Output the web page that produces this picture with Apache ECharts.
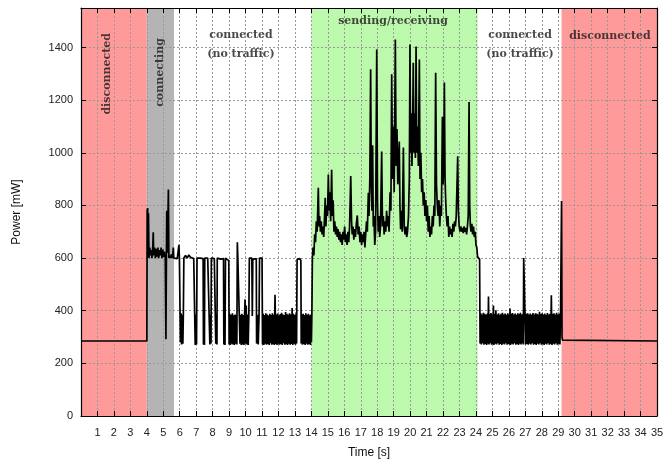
<!DOCTYPE html>
<html>
<head>
<meta charset="utf-8">
<script src="https://cdn.jsdelivr.net/npm/echarts@6/dist/echarts.min.js"></script>
<style>html,body{margin:0;padding:0;background:#fff;}#c{width:672px;height:464px;}</style>
</head>
<body>
<div id="c"></div>
<script>
// ---------- data ----------
const xTicks = [0, 35, 1];        // min, max, interval (s)
const yTicks = [0, 1550, 200];    // min, max, interval (mW)

const regionStart = [0, 4, 5.65, 14, 24.1, 29.2];
const regionEnd   = [4, 5.65, 14, 24.1, 29.2, 35];
const regionKind  = ['off', 'connecting', 'idle', 'transfer', 'idle', 'off'];

const noteText = ['disconnected', 'connecting', 'connected\n(no traffic)', 'sending/receiving', 'connected\n(no traffic)', 'disconnected'];
const noteT    = [1.58, 4.8, 9.72, 18.96, 26.68, 32.14];
const noteV    = [1300, 1305, 1410, 1500, 1410, 1444];
const noteVertical = [true, true, false, false, false, false];

const traceOff1 = [[0,285],[4.0,285]];
const traceConnecting = [
[4.0,285],[4.02,780],[4.05,790],[4.07,600],[4.1,770],[4.13,600],[4.18,640],[4.22,610],[4.27,630],[4.31,600],[4.36,640],[4.39,698],[4.42,610],
[4.47,640],[4.52,600],[4.57,635],[4.62,605],[4.67,640],[4.72,600],[4.77,630],[4.82,610],[4.87,640],[4.92,600],[4.97,632],[5.02,605],[5.07,625],
[5.12,600],[5.16,292],[5.19,600],[5.21,780],[5.25,620],[5.31,860],[5.34,600],[5.4,610],[5.45,600],[5.5,615],[5.56,600],[5.61,640],[5.64,600]
];
const traceIdle1 = [
[5.65,600],[5.75,605],[5.85,598],[5.95,650],[5.98,600],
[6.02,600],[6.04,280],[6.08,390],[6.11,272],[6.15,385],[6.19,275],[6.22,390],[6.25,600],
[6.35,610],[6.45,600],[6.55,612],[6.65,603],[6.75,600],[6.85,598],[6.92,600],
[6.94,270],[6.98,385],[7.02,272],[7.05,600],
[7.15,605],[7.25,600],[7.35,600],[7.42,598],
[7.44,272],[7.47,385],[7.5,270],[7.52,600],
[7.6,603],[7.7,600],[7.8,598],[7.83,272],[7.87,385],[7.9,275],[7.92,600],
[8.0,602],[8.1,598],[8.17,600],[8.19,275],[8.23,385],[8.26,272],[8.28,600],
[8.4,600],[8.5,596],[8.6,600],[8.66,598],[8.68,272],[8.72,385],[8.75,270],[8.78,600],[8.9,600],[8.98,590],
[9.0,272],[9.04,388],[9.08,270],[9.12,385],[9.16,275],[9.2,390],[9.24,272],[9.28,383],[9.32,270],[9.36,386],[9.4,275],[9.44,384],[9.47,272],
[9.5,660],[9.53,600],[9.6,598],[9.64,600],
[9.66,275],[9.7,385],[9.74,270],[9.78,388],[9.82,272],[9.86,384],[9.9,270],[9.94,386],[9.97,443],[10.0,275],[10.04,420],[10.08,272],[10.12,386],[10.16,270],[10.2,390],
[10.23,600],[10.3,598],[10.38,600],[10.41,380],[10.44,595],[10.55,600],[10.65,598],[10.67,275],[10.72,385],[10.77,272],[10.82,385],[10.85,600],[10.95,598],[11.0,600],
[11.03,272],[11.07,388],[11.11,270],[11.15,384],[11.19,275],[11.23,390],[11.27,271],[11.31,386],[11.35,274],[11.39,382],[11.43,270],[11.47,388],[11.51,276],[11.55,384],[11.59,271],[11.63,390],[11.67,273],[11.71,385],[11.75,270],[11.79,461],[11.83,274],[11.87,386],[11.91,270],[11.95,389],[11.99,275],[12.03,383],[12.07,271],[12.11,387],[12.15,274],[12.19,392],[12.23,270],[12.27,386],[12.31,276],[12.35,384],[12.39,271],[12.43,395],[12.47,273],[12.51,388],[12.55,270],[12.59,385],[12.63,275],[12.67,390],[12.71,271],[12.75,386],[12.79,274],[12.83,410],[12.87,270],[12.91,388],[12.95,275],[12.99,384],[13.03,271],[13.07,389],[13.1,275],
[13.13,595],[13.2,600],[13.3,598],[13.36,590],[13.38,275],
[13.42,386],[13.46,271],[13.5,388],[13.54,274],[13.58,384],[13.62,270],[13.66,390],[13.7,275],[13.74,385],[13.78,271],[13.82,388],[13.86,274],[13.9,383],[13.94,270],[13.98,386],[14.0,280]
];
const traceTransfer = [
[14.0,280],[14.03,390],[14.06,600],[14.1,640],[14.15,610],[14.2,690],[14.25,660],[14.3,740],[14.35,700],[14.42,867],[14.46,720],[14.5,760],[14.55,700],[14.6,740],[14.65,690],[14.7,720],[14.75,680],[14.8,760],[14.84,829],[14.88,720],[14.93,800],[14.98,760],[15.03,917],[15.07,780],[15.12,850],[15.17,740],[15.23,935],[15.27,760],[15.32,820],[15.37,700],[15.42,740],[15.47,690],[15.52,720],[15.57,680],[15.62,710],[15.67,670],[15.72,700],[15.77,660],[15.82,690],[15.87,650],[15.92,700],[15.97,670],[16.02,720],[16.07,660],[16.12,690],[16.17,650],[16.22,700],[16.27,660],[16.32,720],[16.39,912],[16.44,740],[16.48,690],[16.53,720],[16.58,670],[16.63,710],[16.68,680],[16.73,730],[16.79,762],[16.84,690],[16.9,720],[16.95,660],[17.0,700],[17.05,650],[17.1,690],[17.15,660],[17.2,700],[17.25,640],[17.3,690],[17.35,740],[17.4,700],[17.46,848],[17.5,760],[17.55,900],[17.6,1317],[17.64,880],[17.68,780],[17.72,1029],[17.76,720],[17.8,760],[17.85,650],[17.9,700],[17.97,1392],[18.02,800],[18.06,700],[18.1,760],[18.15,680],[18.2,720],[18.27,1005],[18.32,720],[18.37,760],[18.42,690],[18.47,740],[18.52,700],[18.57,780],[18.62,720],[18.67,760],[18.72,700],[18.78,850],[18.83,780],[18.88,1298],[18.93,900],[18.98,1100],[19.03,850],[19.1,1430],[19.15,950],[19.2,1090],[19.25,880],[19.3,980],[19.34,1043],[19.38,800],[19.42,710],[19.47,780],[19.52,700],[19.59,1020],[19.64,720],[19.69,690],[19.74,720],[19.79,680],[19.84,700],[19.9,760],[19.95,900],[19.99,1411],[20.03,1000],[20.07,1150],[20.11,950],[20.15,1080],[20.19,1342],[20.23,1000],[20.28,1150],[20.32,980],[20.36,1404],[20.4,1000],[20.45,1100],[20.5,950],[20.56,1354],[20.6,900],[20.65,1000],[20.7,850],[20.75,900],[20.8,800],[20.85,850],[20.9,760],[20.95,820],[21.0,740],[21.05,800],[21.1,700],[21.15,760],[21.2,680],[21.25,720],[21.3,690],[21.35,760],[21.4,720],[21.45,800],[21.5,760],[21.55,1304],[21.6,880],[21.65,800],[21.7,760],[21.75,820],[21.8,720],[21.85,800],[21.9,760],[21.96,1137],[22.0,880],[22.04,960],[22.08,1267],[22.12,905],[22.16,820],[22.2,760],[22.25,720],[22.3,760],[22.35,680],[22.4,720],[22.45,690],[22.5,710],[22.55,680],[22.6,730],[22.65,700],[22.7,740],[22.75,720],[22.8,760],[22.89,987],[22.93,780],[22.98,720],[23.03,700],[23.08,720],[23.13,700],[23.18,715],[23.23,695],[23.28,720],[23.33,700],[23.38,715],[23.43,690],[23.48,720],[23.53,760],[23.58,1193],[23.62,800],[23.66,720],[23.7,700],[23.75,730],[23.8,690],[23.85,720],[23.9,680],[23.95,700],[24.0,650],[24.05,640],[24.1,605],[24.18,600]
];
const traceIdle2 = [
[24.18,600],[24.22,595],[24.25,275],[24.29,390],[24.33,272],[24.37,386],[24.41,276],[24.45,392],[24.49,271],[24.53,388],[24.57,274],[24.61,385],[24.65,270],[24.69,389],[24.73,275],[24.76,454],[24.79,272],[24.83,387],[24.87,276],[24.91,391],[24.95,271],[24.99,386],[25.03,274],[25.06,420],[25.09,270],[25.13,388],[25.17,275],[25.21,402],[25.25,272],[25.29,386],[25.33,276],[25.37,390],[25.41,271],[25.45,385],[25.49,274],[25.53,388],[25.57,270],[25.61,392],[25.65,275],[25.69,386],[25.73,272],[25.77,389],[25.81,276],[25.85,385],[25.89,271],[25.93,390],[25.97,274],[26.01,386],[26.04,272],[26.07,408],[26.1,270],[26.14,388],[26.18,275],[26.22,391],[26.26,272],[26.3,386],[26.34,276],[26.38,389],[26.42,271],[26.46,385],[26.5,274],[26.54,390],[26.58,270],[26.62,387],[26.66,275],[26.7,392],[26.74,272],[26.78,386],[26.82,276],[26.86,388],[26.88,272],
[26.9,600],[26.95,605],[27.0,600],[27.02,272],
[27.06,388],[27.1,274],[27.14,390],[27.18,271],[27.22,386],[27.26,275],[27.3,389],[27.34,272],[27.38,385],[27.42,276],[27.46,391],[27.5,271],[27.54,386],[27.58,274],[27.62,390],[27.66,270],[27.7,388],[27.74,275],[27.78,386],[27.82,272],[27.86,396],[27.9,276],[27.94,387],[27.98,271],[28.02,390],[28.06,274],[28.1,386],[28.14,270],[28.18,389],[28.22,275],[28.26,385],[28.3,272],[28.34,391],[28.38,276],[28.42,386],[28.46,271],[28.5,388],[28.54,274],[28.58,459],[28.62,270],[28.66,387],[28.7,275],[28.74,390],[28.78,272],[28.82,386],[28.86,276],[28.9,392],[28.94,271],[28.98,386],[29.02,274],[29.06,389],[29.1,272],[29.14,387],[29.17,380],[29.2,817],[29.23,300],[29.26,288]
];
const traceOff2 = [[29.26,288],[35,285]];

// ---------- build ----------
const trace = [].concat(traceOff1, traceConnecting, traceIdle1, traceTransfer.slice(1), traceIdle2.slice(1), traceOff2.slice(1));
const kindColor = { off: '#ff9a9a', connecting: '#b4b4b4', idle: 'rgba(0,0,0,0)', transfer: '#bcf9ad' };
const regions = regionStart.map((s, i) => [s, regionEnd[i], regionKind[i]]);
const notes = noteText.map((t, i) => ({
  value: [noteT[i], noteV[i]],
  label: {
    show: true, formatter: t, position: 'inside',
    rotate: noteVertical[i] ? 90 : 0,
    fontFamily: 'DejaVu Serif', fontSize: 11, fontWeight: 'bold', color: '#1a1a1a', lineHeight: 19, align: 'center', verticalAlign: 'middle'
  }
}));

const axisFont = { fontFamily: 'Liberation Sans', fontSize: 11, color: '#222' };
const grid = { left: 81, right: 15, top: 8, bottom: 43 };
const splitStyle = { show: true, lineStyle: { color: '#999', type: [2, 2], width: 1 } };
const tickIn = { show: true, inside: true, length: 5, lineStyle: { color: '#000' } };
const lineBlack = { show: true, onZero: false, lineStyle: { color: '#000', width: 1.2 } };

const chart = echarts.init(document.getElementById('c'), null, { renderer: 'canvas' });
chart.setOption({
  animation: false,
  backgroundColor: '#fff',
  grid: grid,
  xAxis: [{
    type: 'value', min: xTicks[0], max: xTicks[1], interval: xTicks[2], z: 2,
    name: 'Time [s]', nameLocation: 'middle', nameGap: 31,
    nameTextStyle: { fontFamily: 'Liberation Sans', fontSize: 12, color: '#111' },
    axisLine: lineBlack, axisTick: tickIn, splitLine: splitStyle,
    axisLabel: Object.assign({ margin: 11, formatter: v => v === 0 ? '' : String(v) }, axisFont)
  }, {
    type: 'value', position: 'top', min: xTicks[0], max: xTicks[1], interval: xTicks[2], z: 2,
    axisLine: lineBlack, axisTick: tickIn, splitLine: { show: false }, axisLabel: { show: false }
  }],
  yAxis: [{
    type: 'value', min: yTicks[0], max: yTicks[1], interval: yTicks[2], z: 2,
    name: 'Power [mW]', nameLocation: 'middle', nameGap: 58, nameRotate: 90,
    nameTextStyle: { fontFamily: 'Liberation Sans', fontSize: 12, color: '#111' },
    axisLine: lineBlack, axisTick: tickIn, splitLine: splitStyle,
    axisLabel: Object.assign({ margin: 8, showMaxLabel: false, formatter: v => (v % 200 === 0 ? String(v) : '') }, axisFont)
  }, {
    type: 'value', position: 'right', min: yTicks[0], max: yTicks[1], interval: yTicks[2], z: 2,
    axisLine: lineBlack, axisTick: tickIn, splitLine: { show: false }, axisLabel: { show: false }
  }],
  series: [{
    type: 'custom', z: 1, silent: true,
    data: regions,
    renderItem: (params, api) => {
      const p0 = api.coord([api.value(0), yTicks[1]]);
      const p1 = api.coord([api.value(1), yTicks[0]]);
      return { type: 'rect', shape: { x: p0[0], y: p0[1], width: p1[0] - p0[0], height: p1[1] - p0[1] },
               style: { fill: kindColor[regions[params.dataIndex][2]] } };
    }
  }, {
    type: 'line', z: 3, data: trace, showSymbol: false, symbol: 'none', sampling: false,
    lineStyle: { color: '#000', width: 1.7 }
  }, {
    type: 'scatter', z: 4, symbolSize: 0, data: notes, silent: true
  }]
});
</script>
</body>
</html>
